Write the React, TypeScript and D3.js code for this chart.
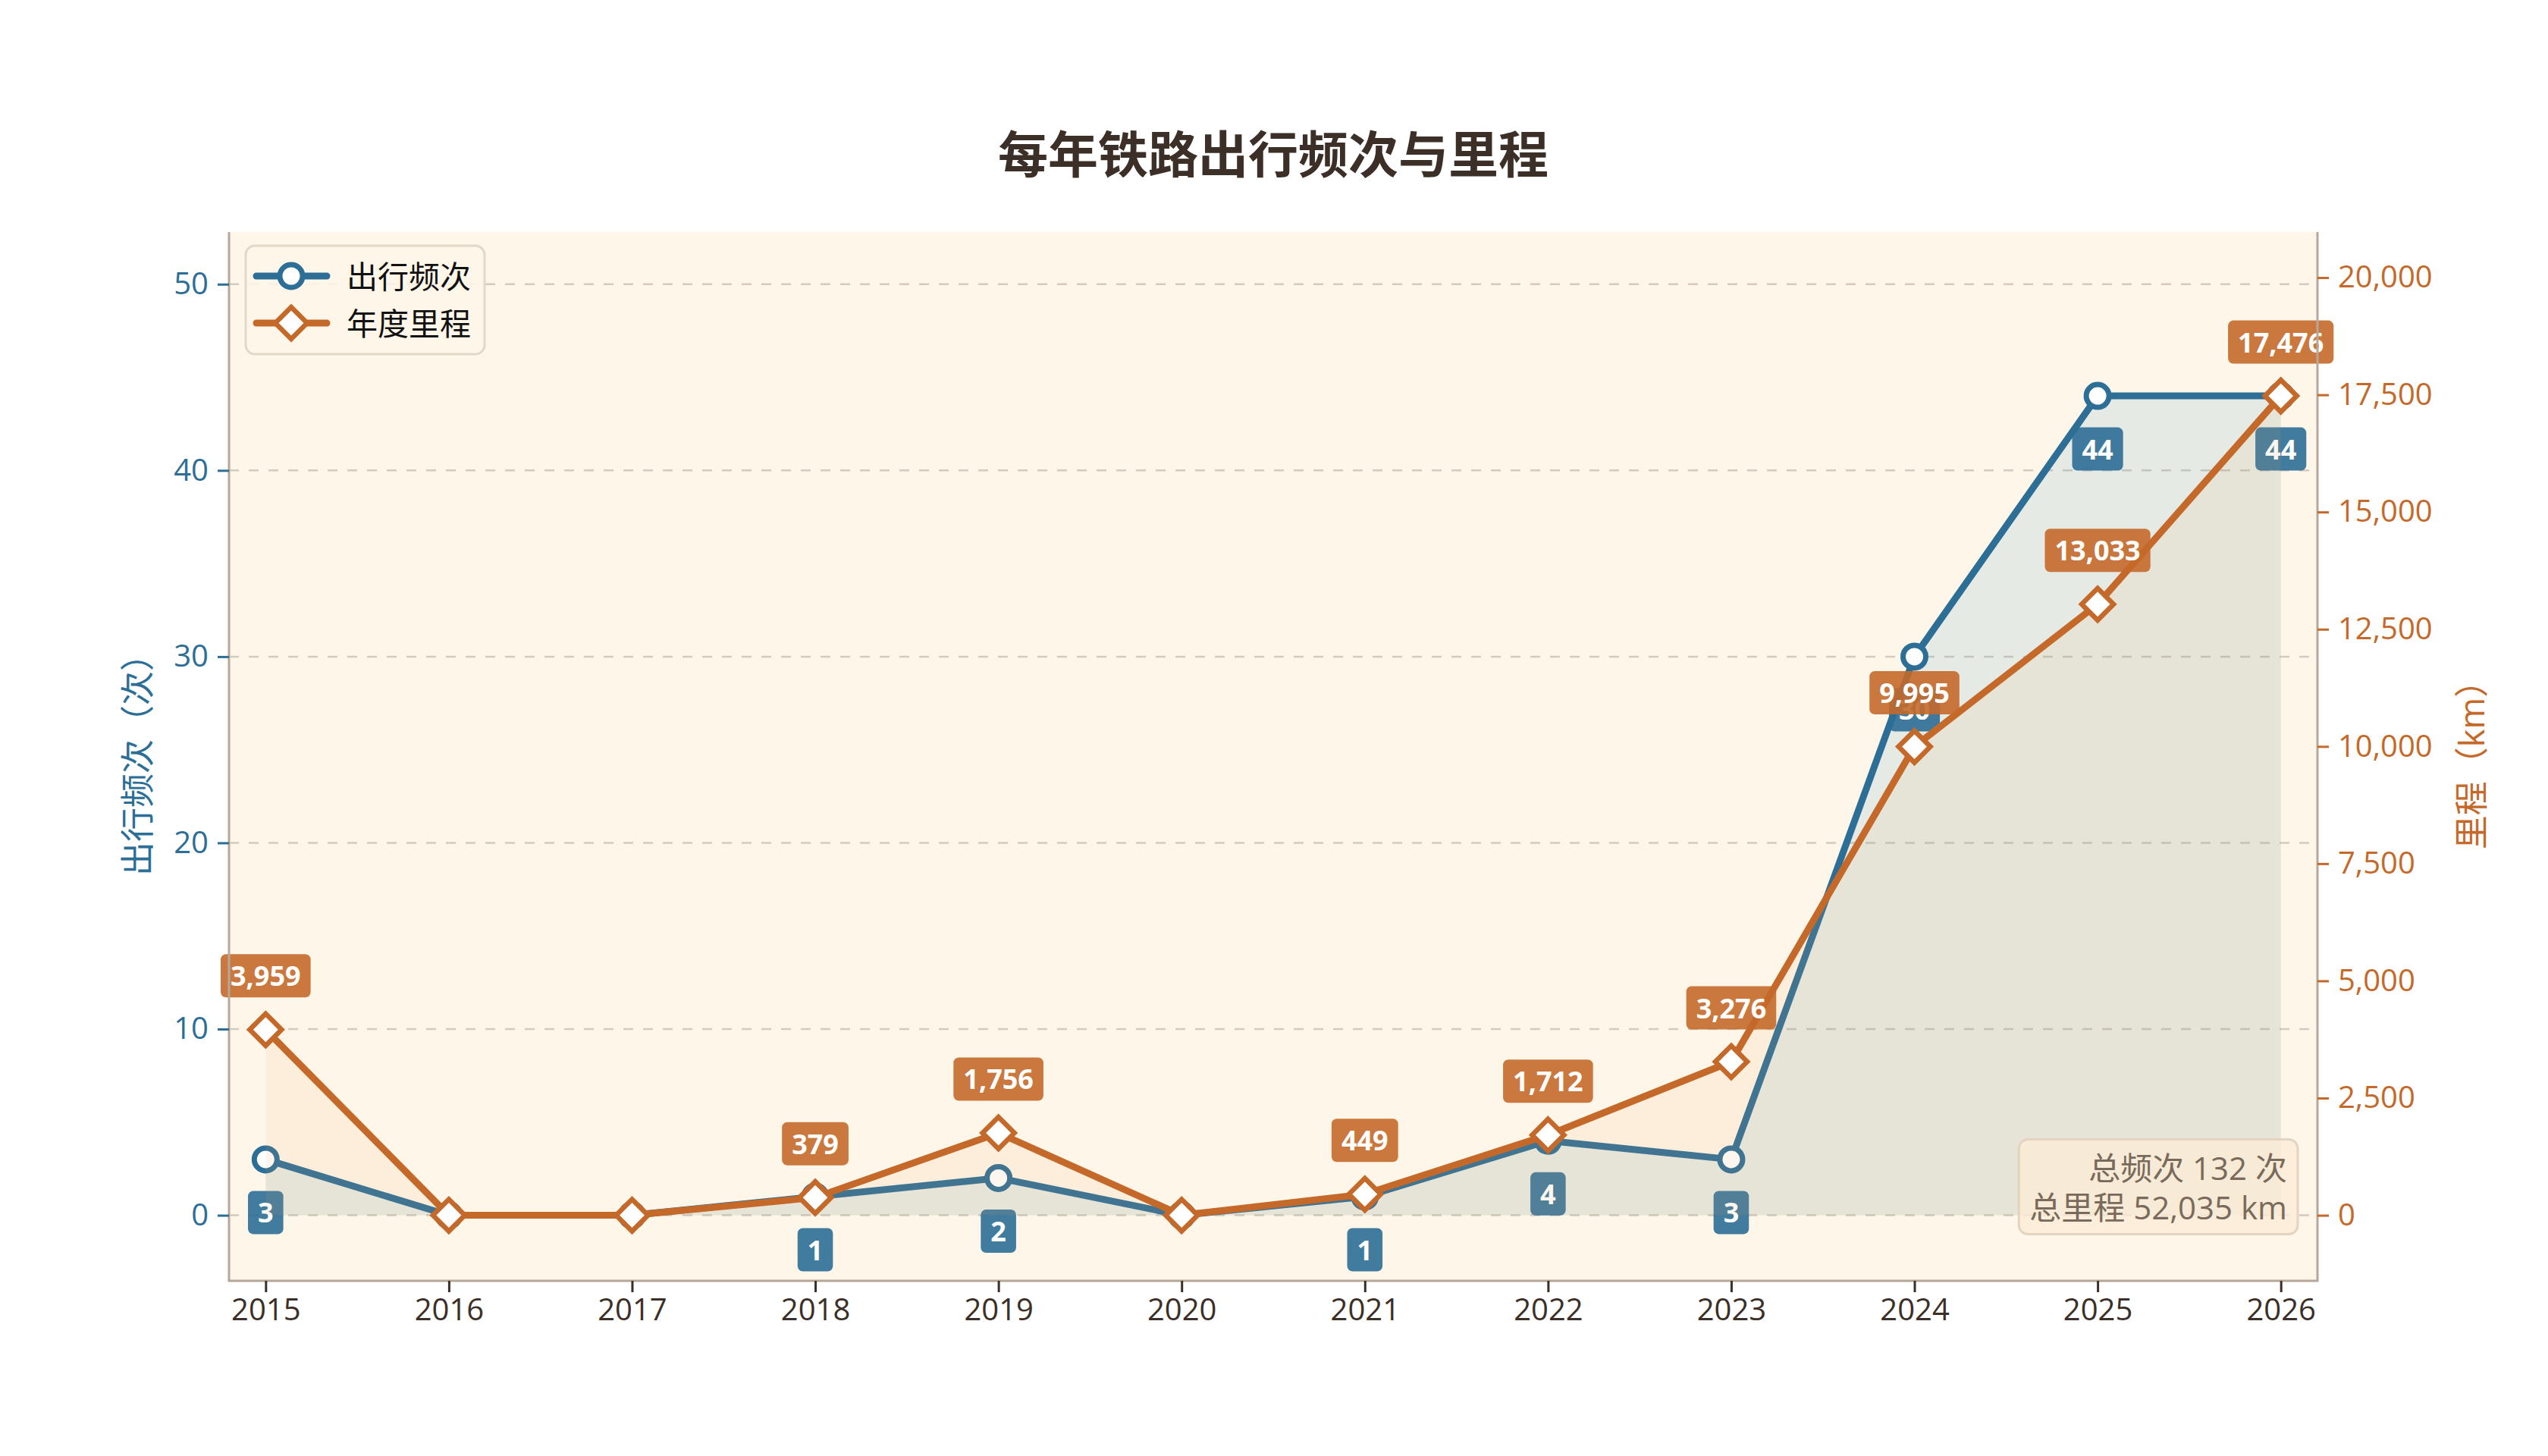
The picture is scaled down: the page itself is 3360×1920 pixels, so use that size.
import { useEffect, useRef } from "react"
import * as d3 from "d3"

const years = [2015, 2016, 2017, 2018, 2019, 2020, 2021, 2022, 2023, 2024, 2025, 2026]
const tripCounts = [3, 0, 0, 1, 2, 0, 1, 4, 3, 30, 44, 44]
const mileageKm = [3959, 0, 0, 379, 1756, 0, 449, 1712, 3276, 9995, 13033, 17476]
const leftTicks = [0, 10, 20, 30, 40, 50]
const rightTicks = [0, 2500, 5000, 7500, 10000, 12500, 15000, 17500, 20000]
const seriesNames = ["出行频次", "年度里程"]
const chartTitle = "每年铁路出行频次与里程"
const leftLabel = "出行频次（次）"
const rightLabel = "里程（km）"

const FONT = '"Open Sans", "Noto Sans CJK SC", sans-serif'
const BLUE = "#2c6e96"
const ORANGE = "#c4692a"
const DARK = "#3b2f27"

export default function App() {
  const svgRef = useRef<SVGSVGElement>(null)

  useEffect(() => {
    if (!svgRef.current) return
    const root = d3.select(svgRef.current)
    root.selectAll("*").remove()

    const W = 3360
    const H = 1920
    const margin = { top: 306, right: 304, bottom: 231, left: 302 }
    const width = W - margin.left - margin.right
    const height = H - margin.top - margin.bottom

    root.append("rect").attr("width", W).attr("height", H).attr("fill", "#ffffff")

    const svg = root.append("g").attr("transform", `translate(${margin.left},${margin.top})`)

    // Plot background
    svg.append("rect").attr("width", width).attr("height", height).attr("fill", "#fef7e9")

    // Scales
    const x = d3.scaleLinear().domain([2014.8, 2026.2]).range([0, width])
    const maxTrips = d3.max(tripCounts) || 1
    const maxKm = d3.max(mileageKm) || 1
    const yL = d3.scaleLinear().domain([-maxTrips * 0.08, maxTrips * 1.2]).range([height, 0])
    const yR = d3.scaleLinear().domain([-maxKm * 0.08, maxKm * 1.2]).range([height, 0])

    const data = years.map((yr, i) => ({ year: yr, trips: tripCounts[i], km: mileageKm[i] }))

    // Grid lines (left axis ticks)
    svg
      .append("g")
      .selectAll("line")
      .data(leftTicks)
      .enter()
      .append("line")
      .attr("x1", 0)
      .attr("x2", width)
      .attr("y1", (d) => yL(d))
      .attr("y2", (d) => yL(d))
      .attr("stroke", "#d5cabb")
      .attr("stroke-width", 2.5)
      .attr("stroke-dasharray", "13,13")

    // Helper for boxed labels
    const boxLabel = (g: any, cx: number, cy: number, txt: string, fill: string) => {
      const grp = g.append("g")
      const t = grp
        .append("text")
        .attr("x", cx)
        .attr("y", cy)
        .attr("text-anchor", "middle")
        .attr("dominant-baseline", "central")
        .attr("fill", "#ffffff")
        .style("font-family", FONT)
        .style("font-weight", "bold")
        .style("font-size", "36px")
        .text(txt)
      const bb = (t.node() as SVGTextElement).getBBox()
      const padX = 13
      const padY = 4
      grp
        .insert("rect", "text")
        .attr("x", bb.x - padX)
        .attr("y", bb.y - padY)
        .attr("width", bb.width + padX * 2)
        .attr("height", bb.height + padY * 2)
        .attr("rx", 7)
        .attr("fill", fill)
        .attr("fill-opacity", 0.9)
    }

    // ---- Trips series (left axis)
    const areaTrips = d3
      .area<any>()
      .x((d) => x(d.year))
      .y0(yL(0))
      .y1((d) => yL(d.trips))
    svg.append("path").datum(data).attr("d", areaTrips).attr("fill", "rgb(95,160,205)").attr("fill-opacity", 0.15)

    const lineTrips = d3
      .line<any>()
      .x((d) => x(d.year))
      .y((d) => yL(d.trips))
    svg
      .append("path")
      .datum(data)
      .attr("d", lineTrips)
      .attr("fill", "none")
      .attr("stroke", BLUE)
      .attr("stroke-width", 9)
      .attr("stroke-linejoin", "round")

    svg
      .append("g")
      .selectAll("circle")
      .data(data)
      .enter()
      .append("circle")
      .attr("cx", (d) => x(d.year))
      .attr("cy", (d) => yL(d.trips))
      .attr("r", 15)
      .attr("fill", "#ffffff")
      .attr("stroke", BLUE)
      .attr("stroke-width", 7)

    const tripLabels = svg.append("g")
    data
      .filter((d) => d.trips > 0)
      .forEach((d) => boxLabel(tripLabels, x(d.year), yL(d.trips) + 70, String(d.trips), BLUE))

    // ---- Mileage series (right axis)
    const areaKm = d3
      .area<any>()
      .x((d) => x(d.year))
      .y0(yR(0))
      .y1((d) => yR(d.km))
    svg.append("path").datum(data).attr("d", areaKm).attr("fill", "rgb(240,170,110)").attr("fill-opacity", 0.11)

    const lineKm = d3
      .line<any>()
      .x((d) => x(d.year))
      .y((d) => yR(d.km))
    svg
      .append("path")
      .datum(data)
      .attr("d", lineKm)
      .attr("fill", "none")
      .attr("stroke", ORANGE)
      .attr("stroke-width", 9)
      .attr("stroke-linejoin", "round")

    const diamond = (r: number) => `M0,${-r}L${r},0L0,${r}L${-r},0Z`
    svg
      .append("g")
      .selectAll("path")
      .data(data)
      .enter()
      .append("path")
      .attr("transform", (d) => `translate(${x(d.year)},${yR(d.km)})`)
      .attr("d", diamond(21))
      .attr("fill", "#ffffff")
      .attr("stroke", ORANGE)
      .attr("stroke-width", 6.5)

    const kmLabels = svg.append("g")
    data
      .filter((d) => d.km > 0)
      .forEach((d) => boxLabel(kmLabels, x(d.year), yR(d.km) - 71, d3.format(",")(d.km), ORANGE))

    // ---- Spines
    const spine = "#b6a898"
    svg.append("line").attr("x1", 0).attr("x2", 0).attr("y1", 0).attr("y2", height).attr("stroke", spine).attr("stroke-width", 3)
    svg.append("line").attr("x1", width).attr("x2", width).attr("y1", 0).attr("y2", height).attr("stroke", spine).attr("stroke-width", 3)
    svg.append("line").attr("x1", -1.5).attr("x2", width + 1.5).attr("y1", height).attr("y2", height).attr("stroke", spine).attr("stroke-width", 3)

    // ---- Axes
    const styleAxis = (g: any, color: string) => {
      g.select(".domain").remove()
      g.selectAll(".tick line").attr("stroke", color).attr("stroke-width", 3)
      g.selectAll(".tick text")
        .attr("fill", color)
        .style("font-family", FONT)
        .style("font-size", "40px")
    }

    const xAxis = svg
      .append("g")
      .attr("transform", `translate(0,${height})`)
      .call(d3.axisBottom(x).tickValues(years).tickFormat(d3.format("d")).tickSize(15).tickPadding(9))
    styleAxis(xAxis, DARK)

    const leftAxis = svg
      .append("g")
      .call(d3.axisLeft(yL).tickValues(leftTicks).tickFormat(d3.format("d")).tickSize(15).tickPadding(12))
    styleAxis(leftAxis, BLUE)

    const rightAxis = svg
      .append("g")
      .attr("transform", `translate(${width},0)`)
      .call(d3.axisRight(yR).tickValues(rightTicks).tickFormat(d3.format(",")).tickSize(15).tickPadding(12))
    styleAxis(rightAxis, ORANGE)

    // ---- Axis labels
    svg
      .append("text")
      .attr("transform", `translate(${-122},${height / 2}) rotate(-90)`)
      .attr("text-anchor", "middle")
      .attr("dominant-baseline", "central")
      .attr("fill", BLUE)
      .style("font-family", FONT)
      .style("font-size", "45px")
      .text(leftLabel)

    svg
      .append("text")
      .attr("transform", `translate(${width + 202},${height / 2}) rotate(-90)`)
      .attr("text-anchor", "middle")
      .attr("dominant-baseline", "central")
      .attr("fill", ORANGE)
      .style("font-family", FONT)
      .style("font-size", "45px")
      .text(rightLabel)

    // ---- Title
    root
      .append("text")
      .attr("x", margin.left + width / 2)
      .attr("y", 202)
      .attr("text-anchor", "middle")
      .attr("dominant-baseline", "central")
      .attr("fill", DARK)
      .style("font-family", FONT)
      .style("font-weight", "bold")
      .style("font-size", "66px")
      .text(chartTitle)

    // ---- Legend
    const legend = svg.append("g").attr("transform", "translate(22,18)")
    legend
      .append("rect")
      .attr("width", 315)
      .attr("height", 143)
      .attr("rx", 12)
      .attr("fill", "#fef7e9")
      .attr("fill-opacity", 0.85)
      .attr("stroke", "#e2d8c9")
      .attr("stroke-width", 3)
    seriesNames.forEach((name, i) => {
      const cy = 40 + i * 62
      const color = i === 0 ? BLUE : ORANGE
      legend
        .append("line")
        .attr("x1", 14)
        .attr("x2", 107)
        .attr("y1", cy)
        .attr("y2", cy)
        .attr("stroke", color)
        .attr("stroke-width", 9)
        .attr("stroke-linecap", "round")
      if (i === 0) {
        legend
          .append("circle")
          .attr("cx", 60)
          .attr("cy", cy)
          .attr("r", 15)
          .attr("fill", "#ffffff")
          .attr("stroke", color)
          .attr("stroke-width", 7)
      } else {
        legend
          .append("path")
          .attr("transform", `translate(60,${cy})`)
          .attr("d", diamond(21))
          .attr("fill", "#ffffff")
          .attr("stroke", color)
          .attr("stroke-width", 6.5)
      }
      legend
        .append("text")
        .attr("x", 133)
        .attr("y", cy)
        .attr("dominant-baseline", "central")
        .attr("fill", "#111111")
        .style("font-family", FONT)
        .style("font-size", "41px")
        .text(name)
    })

    // ---- Summary box
    const summaryLines = [
      `总频次 ${d3.sum(tripCounts)} 次`,
      `总里程 ${d3.format(",")(d3.sum(mileageKm))} km`,
    ]
    const summary = svg.append("g")
    const sx = width - 40
    const texts = summaryLines.map((s, i) =>
      summary
        .append("text")
        .attr("x", sx)
        .attr("y", height - 150 + i * 52)
        .attr("text-anchor", "end")
        .attr("dominant-baseline", "central")
        .attr("fill", "#7a6a5b")
        .style("font-family", FONT)
        .style("font-size", "42px")
        .text(s),
    )
    const boxes = texts.map((t) => (t.node() as SVGTextElement).getBBox())
    const bx0 = d3.min(boxes, (b) => b.x) || 0
    const by0 = d3.min(boxes, (b) => b.y) || 0
    const bx1 = d3.max(boxes, (b) => b.x + b.width) || 0
    const by1 = d3.max(boxes, (b) => b.y + b.height) || 0
    summary
      .insert("rect", "text")
      .attr("x", bx0 - 14)
      .attr("y", by0 - 8)
      .attr("width", bx1 - bx0 + 28)
      .attr("height", by1 - by0 + 16)
      .attr("rx", 12)
      .attr("fill", "#fbebd6")
      .attr("fill-opacity", 0.8)
      .attr("stroke", "#e2d4c1")
      .attr("stroke-width", 3)
  }, [])

  return (
    <svg
      ref={svgRef}
      width={3360}
      height={1920}
      style={{ position: "absolute", left: 0, top: 0, display: "block" }}
    ></svg>
  )
}
